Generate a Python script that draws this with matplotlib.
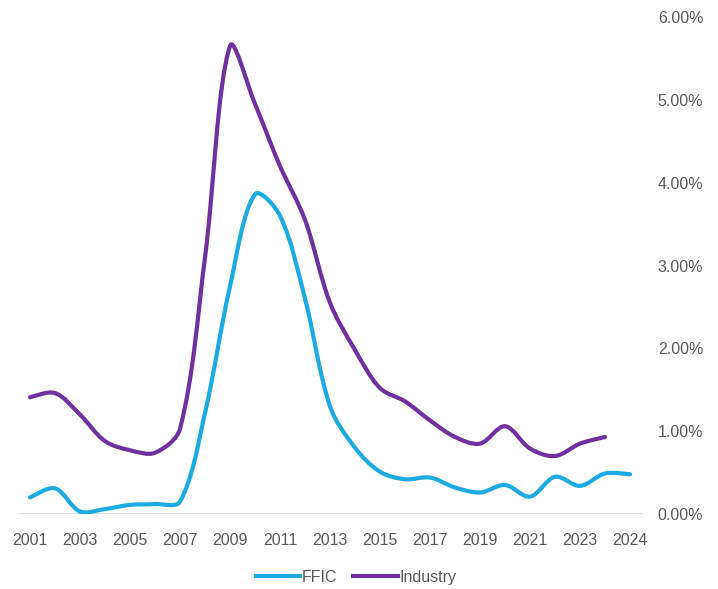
import matplotlib.pyplot as plt
from matplotlib.path import Path
from matplotlib.patches import PathPatch
from matplotlib.lines import Line2D
from matplotlib.ticker import PercentFormatter

# x-axis labels, shown on every other period
tick_labels = ['2001', '2003', '2005', '2007', '2009', '2011', '2013',
               '2015', '2017', '2019', '2021', '2023', '2024']

# charge-off rates in percent, one value per period
ffic = [0.20, 0.31, 0.03, 0.06, 0.11, 0.12, 0.15, 1.22, 2.75, 3.86,
        3.60, 2.60, 1.30, 0.80, 0.51, 0.42, 0.44, 0.32, 0.26, 0.35,
        0.21, 0.45, 0.34, 0.49, 0.48]
industry = [1.41, 1.46, 1.20, 0.88, 0.77, 0.74, 1.03, 3.10, 5.65, 4.95,
            4.20, 3.55, 2.55, 1.98, 1.52, 1.36, 1.13, 0.93, 0.85, 1.06,
            0.79, 0.70, 0.85, 0.93]

BLUE = '#1DAAE2'
PURPLE = '#7030A0'
GREY = '#595959'

plt.rcParams['font.family'] = ['Liberation Sans', 'DejaVu Sans']

# rough on-screen size of one x step and of one percent, used to
# weight the bezier handles by segment length
SX, SY = 25.0, 83.0


def smooth_path(ys):
    # smoothed line: cubic bezier through every point, handle length
    # split by the screen length of the neighbouring segments
    n = len(ys)
    pts = [(float(i), float(y)) for i, y in enumerate(ys)]

    def dist(a, b):
        return (((b[0] - a[0]) * SX) ** 2 + ((b[1] - a[1]) * SY) ** 2) ** 0.5

    h_in, h_out = [], []
    for i in range(n):
        p0 = pts[max(i - 1, 0)]
        p2 = pts[min(i + 1, n - 1)]
        d_in = dist(p0, pts[i])
        d_out = dist(pts[i], p2)
        tot = d_in + d_out
        tx, ty = p2[0] - p0[0], p2[1] - p0[1]
        if i == 0 or i == n - 1:
            f_in = f_out = 1 / 6
        else:
            f_in, f_out = d_in / tot / 3, d_out / tot / 3
        h_in.append((pts[i][0] - tx * f_in, pts[i][1] - ty * f_in))
        h_out.append((pts[i][0] + tx * f_out, pts[i][1] + ty * f_out))

    verts = [pts[0]]
    codes = [Path.MOVETO]
    for i in range(n - 1):
        verts += [h_out[i], h_in[i + 1], pts[i + 1]]
        codes += [Path.CURVE4] * 3
    return Path(verts, codes)


fig = plt.figure(figsize=(7.18, 5.89), dpi=100)
ax = fig.add_axes([0.0244, 0.1273, 0.8705, 0.8438])

for ys, col in [(ffic, BLUE), (industry, PURPLE)]:
    ax.add_patch(PathPatch(smooth_path(ys), facecolor='none', edgecolor=col,
                           lw=3.0, capstyle='round', joinstyle='round'))

ax.set_xlim(-0.5, 24.5)
ax.set_ylim(0, 6)
ax.axhline(0, color='#D9D9D9', lw=1.2, zorder=0)

ax.set_xticks(range(0, 25, 2))
ax.set_xticklabels(tick_labels)
ax.yaxis.tick_right()
ax.set_yticks(range(0, 7))
ax.yaxis.set_major_formatter(PercentFormatter(decimals=2))
ax.tick_params(axis='both', length=0, labelsize=11.5, labelcolor=GREY)
ax.tick_params(axis='y', pad=11)
ax.tick_params(axis='x', pad=14)
for lbl in ax.get_yticklabels():
    lbl.set_horizontalalignment('left')

for s in ax.spines.values():
    s.set_visible(False)

handles = [Line2D([], [], color=BLUE, lw=3.0),
           Line2D([], [], color=PURPLE, lw=3.0)]
fig.legend(handles, ['FFIC', 'Industry'], loc='center', ncol=2,
           bbox_to_anchor=(0.496, 0.02), frameon=False, fontsize=11.5,
           handlelength=2.8, handletextpad=0.1, columnspacing=1.0,
           labelcolor=GREY)

fig.savefig('out.png', dpi=100)
